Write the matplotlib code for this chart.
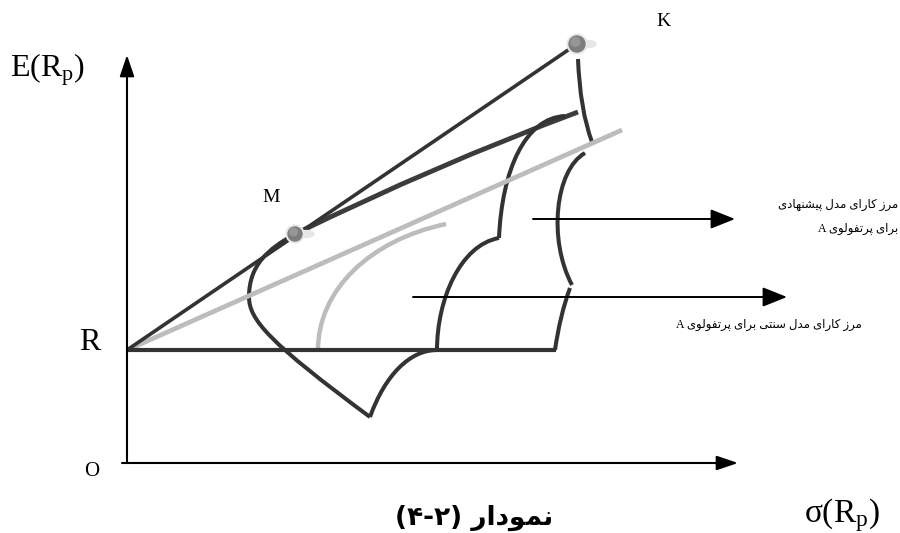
import re
import matplotlib
matplotlib.use("Agg")
import matplotlib.pyplot as plt
from matplotlib.path import Path
from matplotlib.patches import PathPatch, Circle, Ellipse

plt.rcParams['mathtext.fontset'] = 'custom'
plt.rcParams['mathtext.rm'] = 'Liberation Serif'
plt.rcParams['mathtext.it'] = 'Liberation Serif:italic'

# ---------------- data (sigma, expected return) ----------------
risk_free = (0, 113)
point_K = (450, 419)
point_M = (168, 229)
gray_line_end = (495, 333)
rf_horizontal_end = (429, 113)

# Bezier control points of the schematic frontiers
frontier_left = [(243, 46), (143, 120), (122, 143), (122, 166),
                 (122, 198), (141, 214), (168, 229)]
frontier_top = [(168, 229), (309, 298), (451, 351)]
frontier_mid = [(310, 113), (310, 163), (333, 218), (372, 225),
                (375, 293), (398, 345), (438, 347)]
frontier_low = [(243, 46), (258, 88), (283, 113), (310, 113)]
frontier_right_1 = [(451, 404), (453, 353), (465, 321)]
frontier_right_2 = [(458, 310), (428, 293), (421, 223), (445, 178)]
frontier_right_3 = [(443, 175), (433, 148), (428, 113)]
frontier_gray = [(191, 113), (191, 173), (243, 223), (319, 239)]

arrow_upper = [(406, 244), (608, 244)]
arrow_lower = [(286, 166), (660, 166)]

label_E = r'$\mathrm{E(R_p)}$'
label_sigma = r'$\mathrm{\sigma(R_p)}$'
label_R = 'R'
label_O = 'O'
label_K = 'K'
label_M = 'M'
text_proposed_1 = 'مرز کارای مدل پیشنهادی'
text_proposed_2 = 'برای پرتفولوی A'
text_traditional = 'مرز کارای مدل سنتی برای پرتفولوی A'
title_text = 'نمودار (۴-۲)'

# ---------------- simple Persian shaping / visual ordering ----------------
FORMS = {
    'ا': ('\uFE8D', '\uFE8E', None, None),
    'ب': ('\uFE8F', '\uFE90', '\uFE91', '\uFE92'),
    'پ': ('\uFB56', '\uFB57', '\uFB58', '\uFB59'),
    'ت': ('\uFE95', '\uFE96', '\uFE97', '\uFE98'),
    'د': ('\uFEA9', '\uFEAA', None, None),
    'ر': ('\uFEAD', '\uFEAE', None, None),
    'ز': ('\uFEAF', '\uFEB0', None, None),
    'س': ('\uFEB1', '\uFEB2', '\uFEB3', '\uFEB4'),
    'ش': ('\uFEB5', '\uFEB6', '\uFEB7', '\uFEB8'),
    'ف': ('\uFED1', '\uFED2', '\uFED3', '\uFED4'),
    'ل': ('\uFEDD', '\uFEDE', '\uFEDF', '\uFEE0'),
    'م': ('\uFEE1', '\uFEE2', '\uFEE3', '\uFEE4'),
    'ن': ('\uFEE5', '\uFEE6', '\uFEE7', '\uFEE8'),
    'ه': ('\uFEE9', '\uFEEA', '\uFEEB', '\uFEEC'),
    'و': ('\uFEED', '\uFEEE', None, None),
    'ک': ('\uFB8E', '\uFB8F', '\uFB90', '\uFB91'),
    'ی': ('\uFBFC', '\uFBFD', '\uFBFE', '\uFBFF'),
}


def shape_fa(s):
    out = []
    for i, c in enumerate(s):
        if c not in FORMS:
            out.append(c)
            continue
        p = s[i - 1] if i > 0 else ''
        n = s[i + 1] if i + 1 < len(s) else ''
        pj = p in FORMS and FORMS[p][2] is not None
        nj = FORMS[c][2] is not None and n in FORMS
        f = FORMS[c]
        if pj and nj:
            out.append(f[3])
        elif pj:
            out.append(f[1])
        elif nj:
            out.append(f[2])
        else:
            out.append(f[0])
    shaped = ''.join(out)
    toks = re.findall(r'[A-Za-z0-9\u06F0-\u06F9]+(?:[-\u2013][A-Za-z0-9\u06F0-\u06F9]+)*|.', shaped)
    mirror = {'(': ')', ')': '('}
    return ''.join(mirror.get(t, t) for t in reversed(toks))


# ---------------- figure ----------------
fig = plt.figure(figsize=(9, 5.33), dpi=100)
ax = fig.add_axes([0, 0, 1, 1])
ax.set_xlim(-127, 773)
ax.set_ylim(-70, 463)
ax.axis('off')

DARK = '#333333'
DARK2 = '#3c3c3c'
GRAY = '#bcbcbc'


def bez(pts, color, lw):
    n = len(pts)
    if n == 3:
        codes = [Path.MOVETO, Path.CURVE3, Path.CURVE3]
    else:
        codes = [Path.MOVETO] + [Path.CURVE4] * (n - 1)
    ax.add_patch(PathPatch(Path(pts, codes), fill=False, edgecolor=color,
                           lw=lw, capstyle='butt', joinstyle='round'))


# axes arrows
ax.annotate('', xy=(0, 408), xytext=(0, 0),
            arrowprops=dict(arrowstyle='-|>,head_length=0.65,head_width=0.22',
                            mutation_scale=20, lw=1.5, color='black',
                            shrinkA=0, shrinkB=0))
ax.annotate('', xy=(611, 0), xytext=(-5, 0),
            arrowprops=dict(arrowstyle='-|>,head_length=0.65,head_width=0.22',
                            mutation_scale=20, lw=1.5, color='black',
                            shrinkA=0, shrinkB=0))

# lines from the risk-free rate
ax.plot([risk_free[0], gray_line_end[0]], [risk_free[1], gray_line_end[1]],
        color=GRAY, lw=3.4, solid_capstyle='butt')
ax.plot([risk_free[0], rf_horizontal_end[0]], [risk_free[1], rf_horizontal_end[1]],
        color=DARK, lw=3.0, solid_capstyle='butt')
ax.plot([risk_free[0], point_K[0]], [risk_free[1], point_K[1]],
        color=DARK, lw=2.6, solid_capstyle='butt')

# frontiers
bez(frontier_gray, GRAY, 3.2)
bez(frontier_left[:4], DARK, 2.9)
bez(frontier_left[3:], DARK, 2.9)
bez(frontier_top, DARK2, 3.5)
bez(frontier_low, DARK, 2.9)
bez(frontier_mid[:4], DARK, 2.9)
bez(frontier_mid[3:], DARK, 2.9)
bez(frontier_right_1, DARK, 2.9)
bez(frontier_right_2, DARK, 2.9)
bez(frontier_right_3, DARK, 2.9)

# points K and M
for (px, py), r in [(point_K, 8), (point_M, 7)]:
    ax.add_patch(Ellipse((px + 11, py), 16, 7, color='#e6e6e6', zorder=4))
    ax.add_patch(Circle((px, py), r + 2, color='#e9e9e9', zorder=5))
    ax.add_patch(Circle((px, py), r, color='#7d7d7d', zorder=6))
    ax.add_patch(Circle((px - 1.5, py + 2), r * 0.55, color='#969696', zorder=7))

# pointer arrows
for (x0, y0), (x1, y1) in [arrow_upper, arrow_lower]:
    ax.annotate('', xy=(x1, y1), xytext=(x0, y0),
                arrowprops=dict(arrowstyle='-|>,head_length=0.75,head_width=0.3',
                                mutation_scale=20, lw=1.4, color='black',
                                shrinkA=0, shrinkB=0))

# labels
serif = 'Liberation Serif'
ax.text(-117, 393, label_E, fontsize=23, ha='left', va='center')
ax.text(-37, 120, label_R, fontsize=23, family=serif, ha='center', va='center')
ax.text(-35, -9, label_O, fontsize=15, family=serif, ha='center', va='center')
ax.text(536, 441, label_K, fontsize=14, family=serif, ha='center', va='center')
ax.text(144, 265, label_M, fontsize=14, family=serif, ha='center', va='center')
ax.text(715, -52, label_sigma, fontsize=24, ha='center', va='center')

fa = [serif, 'DejaVu Sans']
ax.text(771, 258, shape_fa(text_proposed_1), fontsize=8.5, family=fa,
        ha='right', va='center')
ax.text(771, 234, shape_fa(text_proposed_2), fontsize=8.5, family=fa,
        ha='right', va='center')
ax.text(735, 138, shape_fa(text_traditional), fontsize=8.5, family=fa,
        ha='right', va='center')
ax.text(347, -55, shape_fa(title_text), fontsize=19, family='DejaVu Sans',
        fontweight='bold', ha='center', va='center')

fig.savefig('out.png', dpi=100)
